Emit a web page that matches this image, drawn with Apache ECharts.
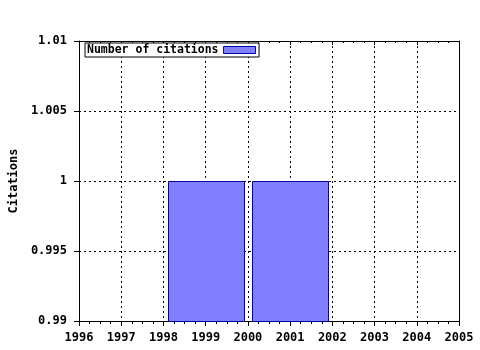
<!DOCTYPE html>
<html><head><meta charset="utf-8">
<script src="https://cdn.jsdelivr.net/npm/echarts@6/dist/echarts.min.js"></script>
<style>html,body{margin:0;padding:0;background:#fff}#c{width:480px;height:350px}</style>
</head><body><div id="c"></div>
<script>
var years = [1999, 2001];
var citations = [1, 1];
var yTickLabels = ['0.99', '0.995', '1', '1.005', '1.01'];
var xMin = 1996, xMax = 2005;
var yMin = 0.99, yMax = 1.01;
var seriesName = 'Number of citations';
var yTitle = 'Citations';

var FONT = '"DejaVu Sans Mono", monospace';
var chart = echarts.init(document.getElementById('c'), null, {renderer: 'canvas'});
var data = years.map(function (y, i) { return [y, citations[i]]; });
var txt = {color: '#000', fontFamily: FONT, fontWeight: 'bold', fontSize: 12};

chart.setOption({
  animation: false,
  grid: {left: 79, top: 41, width: 380, height: 280, containLabel: false, outerBoundsMode: 'none'},
  legend: {
    left: 85, top: 43, borderColor: '#000', borderWidth: 1, backgroundColor: '#fff',
    padding: [1, 3, 1, 2], itemWidth: 32, itemHeight: 7, align: 'right', icon: 'rect',
    itemStyle: {color: '#8080ff', borderColor: '#0000a0', borderWidth: 1},
    textStyle: Object.assign({}, txt, {fontSize: 11.5}),
    data: [seriesName]
  },
  xAxis: [{
    type: 'value', min: xMin, max: xMax, interval: 1, position: 'bottom',
    axisLine: {lineStyle: {color: '#000', width: 1}},
    axisTick: {show: true, length: 5, inside: false, lineStyle: {color: '#000'}},
    minorTick: {show: true, splitNumber: 4, length: 3, lineStyle: {color: '#000'}},
    axisLabel: Object.assign({}, txt, {margin: 11, formatter: function (v) { return String(v); }}),
    splitLine: {show: true, lineStyle: {color: '#000', type: [2, 3], width: 1}}
  }, {
    type: 'value', min: xMin, max: xMax, interval: 1, position: 'top',
    axisLine: {show: true, lineStyle: {color: '#000', width: 1}},
    axisTick: {show: true, length: 4, inside: true, lineStyle: {color: '#000'}},
    minorTick: {show: true, splitNumber: 4, length: 2, lineStyle: {color: '#000'}},
    axisLabel: {show: false}, splitLine: {show: false}
  }],
  yAxis: [{
    type: 'value', min: yMin, max: yMax, interval: 0.005, position: 'left',
    name: yTitle, nameLocation: 'middle', nameGap: 58, nameRotate: 90,
    nameTextStyle: txt,
    axisLine: {show: true, lineStyle: {color: '#000', width: 1}},
    axisTick: {show: true, length: 5, lineStyle: {color: '#000'}},
    axisLabel: Object.assign({}, txt, {margin: 12, formatter: function (v, i) { return yTickLabels[i]; }}),
    splitLine: {show: true, lineStyle: {color: '#000', type: [2, 3], width: 1}}
  }, {
    type: 'value', min: yMin, max: yMax, interval: 0.005, position: 'right',
    axisLine: {show: true, lineStyle: {color: '#000', width: 1}},
    axisTick: {show: false}, axisLabel: {show: false}, splitLine: {show: false}
  }],
  series: [{
    name: seriesName, type: 'custom', xAxisIndex: 0, yAxisIndex: 0,
    itemStyle: {color: '#8080ff', borderColor: '#0000a0', borderWidth: 1},
    encode: {x: 0, y: 1},
    renderItem: function (params, api) {
      var x = api.value(0), y = api.value(1);
      var p1 = api.coord([x - 0.9, y]);
      var p2 = api.coord([x + 0.9, yMin]);
      return {
        type: 'rect',
        shape: {x: Math.round(p1[0]) + 0.5, y: Math.round(p1[1]) + 0.5, width: Math.round(p2[0] - p1[0]), height: Math.round(p2[1] - p1[1])},
        style: {fill: '#8080ff', stroke: '#0000a0', lineWidth: 1}
      };
    },
    data: data
  }]
});
</script></body></html>
